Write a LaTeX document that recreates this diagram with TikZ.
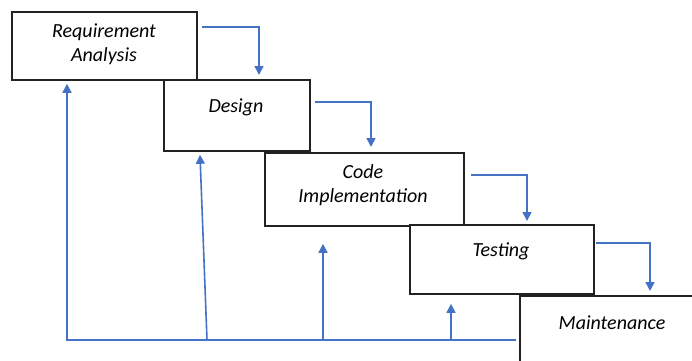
\documentclass[tikz,border=0pt]{standalone}
\usepackage{fontspec}
\setmainfont{Carlito}
\usetikzlibrary{arrows.meta,calc}
\definecolor{flowblue}{HTML}{4472C4}
\definecolor{boxline}{HTML}{222222}
\tikzset{
  stage/.style={draw=boxline, line width=1.8pt, fill=white, rectangle, inner sep=0pt, anchor=north west},
  label/.style={font=\fontsize{20}{24}\selectfont\itshape, align=center, inner sep=0pt},
  flow/.style={draw=flowblue, line width=1.6pt, -{Triangle[width=9pt,length=9pt]}},
  plain/.style={draw=flowblue, line width=1.6pt}
}
\begin{document}
\begin{tikzpicture}[x=1pt,y=-1pt]
\useasboundingbox (0,0) rectangle (692,360);
\clip (0,0) rectangle (692,360);
% stages of the cascade
\node[stage, minimum width=185pt, minimum height=68pt] (req) at (11,11) {};
\node[stage, minimum width=146pt, minimum height=71pt] (des) at (163,79) {};
\node[stage, minimum width=199pt, minimum height=73pt] (code) at (264,152) {};
\node[stage, minimum width=184pt, minimum height=69pt] (test) at (409,224) {};
\node[stage, minimum width=190pt, minimum height=80pt] (maint) at (519,295) {};
% stage names
\node[label] (reqt) at (104,44) {Requirement\\Analysis};
\node[label] (dest) at (236,107) {Design};
\node[label] (codet) at (363,185) {Code\\Implementation};
\node[label] (testt) at (501,251) {Testing};
\node[label] (maintt) at (612,323) {Maintenance};
% forward steps
\draw[flow] ($(req.north east)+(4,16)$) -| ($(des.north west)+(96,-4)$);
\draw[flow] ($(des.north east)+(4,23)$) -| ($(code.north west)+(107,-5)$);
\draw[flow] ($(code.north east)+(6,23)$) -| ($(test.north west)+(118,-3)$);
\draw[flow] ($(test.north east)+(1,19)$) -| ($(maint.north west)+(131,-4)$);
% feedback to every earlier stage
\coordinate (fb) at ($(maint.north west)+(-3,45)$);
\draw[flow] (fb) -| ($(req.south west)+(56,3)$);
\coordinate (fdes) at (207,340);
\coordinate (fcode) at (323,340);
\coordinate (ftest) at (451,340);
\draw[flow] (fdes) -- ($(des.south west)+(37,3)$);
\draw[flow] (fcode) -- ($(code.south west)+(59,17)$);
\draw[flow] (ftest) -- ($(test.south west)+(42,9)$);
\end{tikzpicture}
\end{document}
